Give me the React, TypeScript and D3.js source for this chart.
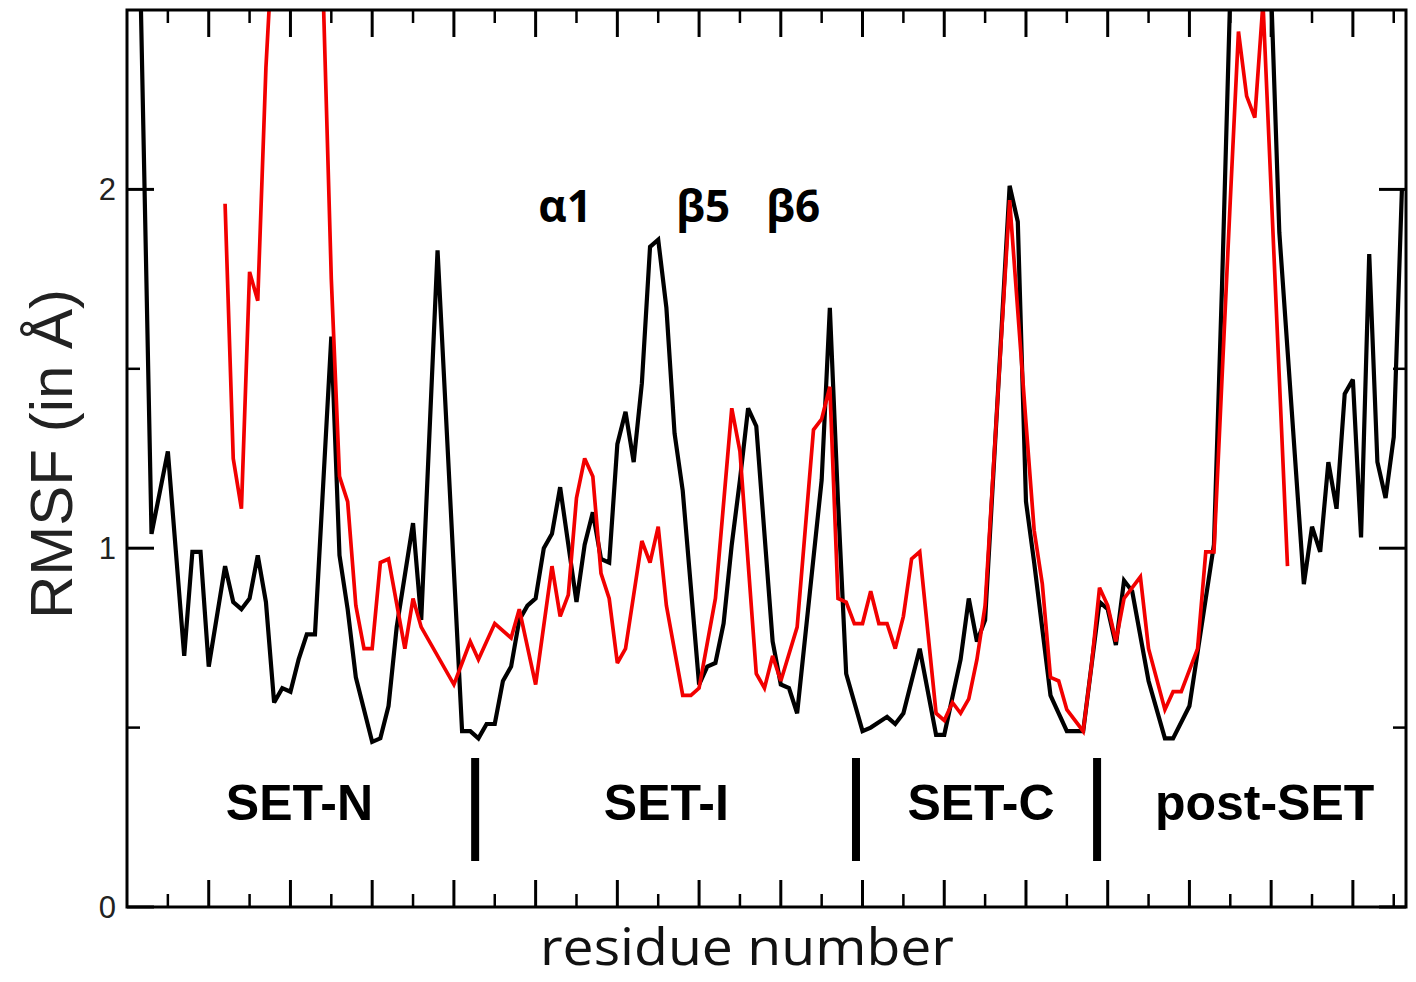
import React from 'react';
import * as d3 from 'd3';

// ---- data ----
const blackResidues = [1,3,5,7,8,9,10,12,13,14,15,16,17,18,19,20,21,22,23,25,26,27,28,30,31,32,33,35,36,38,41,42,43,44,45,46,47,48,49,50,51,52,53,55,56,57,58,59,60,61,62,63,64,65,66,67,68,70,71,72,73,74,75,76,77,79,80,81,82,85,86,87,88,90,91,93,94,95,97,99,100,102,103,104,105,108,109,110,111,113,115,117,119,120,121,122,123,125,127,128,130,131,133,134,135,137,140,141,144,145,146,147,148,149,150,151,152,153,154,155,156];
const blackRmsf = [3.30,1.04,1.27,0.70,0.99,0.99,0.67,0.95,0.85,0.83,0.86,0.98,0.85,0.57,0.61,0.60,0.69,0.76,0.76,1.59,0.98,0.83,0.64,0.46,0.47,0.56,0.78,1.07,0.80,1.83,0.49,0.49,0.47,0.51,0.51,0.63,0.67,0.80,0.84,0.86,1.00,1.04,1.17,0.85,1.01,1.10,0.97,0.96,1.29,1.38,1.24,1.46,1.84,1.86,1.67,1.32,1.16,0.62,0.67,0.68,0.79,1.01,1.19,1.39,1.34,0.74,0.62,0.61,0.54,1.19,1.67,1.13,0.65,0.49,0.50,0.53,0.51,0.54,0.72,0.48,0.48,0.69,0.86,0.74,0.80,2.01,1.91,1.13,0.96,0.59,0.49,0.49,0.85,0.83,0.73,0.91,0.88,0.63,0.47,0.47,0.56,0.71,1.01,1.74,2.55,3.00,2.55,1.88,0.90,1.06,0.99,1.24,1.11,1.43,1.47,1.03,1.82,1.24,1.14,1.31,2.00];

const redResidues = [12,13,14,15,16,17,20,24,25,26,27,28,29,30,31,32,34,35,36,40,41,42,43,45,47,48,50,52,53,54,55,56,57,58,59,60,61,63,64,65,66,68,69,70,72,74,75,77,78,79,80,82,84,85,86,87,88,89,90,91,92,93,94,95,96,97,99,100,101,102,103,104,105,108,110,111,112,113,114,115,117,118,119,120,121,122,124,125,127,128,129,131,132,133,135,136,137,138,139,142];
const redRmsf = [1.96,1.25,1.11,1.77,1.69,2.34,3.60,2.55,1.75,1.20,1.13,0.84,0.72,0.72,0.96,0.97,0.72,0.86,0.78,0.62,0.68,0.74,0.69,0.79,0.75,0.83,0.62,0.95,0.81,0.87,1.14,1.25,1.20,0.93,0.86,0.68,0.72,1.02,0.96,1.06,0.84,0.59,0.59,0.61,0.86,1.39,1.27,0.65,0.61,0.70,0.63,0.78,1.33,1.36,1.45,0.86,0.85,0.79,0.79,0.88,0.79,0.79,0.72,0.81,0.97,0.99,0.54,0.52,0.57,0.54,0.58,0.69,0.84,1.97,1.35,1.05,0.90,0.64,0.63,0.55,0.49,0.67,0.89,0.84,0.74,0.86,0.92,0.72,0.55,0.60,0.60,0.72,0.99,0.99,1.97,2.44,2.26,2.20,2.52,0.95];

const yTickValues = [0, 1, 2];
const yTickLabels = ['0', '1', '2'];
const yMinorTickValues = [0.5, 1.5];
const domainBoundaries = [42.6, 89.2, 118.7];
const domainLabels = ['SET-N', 'SET-I', 'SET-C', 'post-SET'];
const domainLabelCenters = [21.1, 66.0, 104.5, 139.2];
const ssLabels = ['α1', 'β5', 'β6'];
const ssLabelCenters = [53.6, 70.5, 81.5];

const W = 1416;
const H = 982;
const L = 127, R = 1406, T = 10, B = 907;

export default function App() {
  const x = d3.scaleLinear().domain([0, 156.5]).range([L, R]);
  const y = d3.scaleLinear().domain([0, 2.5]).range([B, T]);
  const majorX = d3.range(10, 156, 10);
  const minorX = d3.range(5, 157, 10);

  const line = d3.line<[number, number]>().x(d => x(d[0])).y(d => y(d[1]));
  const blackPts = blackResidues.map((r, i) => [r, blackRmsf[i]] as [number, number]);
  const redPts = redResidues.map((r, i) => [r, redRmsf[i]] as [number, number]);

  const majLen = 27, minLen = 13;

  return (
    <svg width={W} height={H} style={{ position: 'absolute', left: 0, top: 0, background: '#fff' }}>
      <defs>
        <clipPath id="plotclip">
          <rect x={L} y={T} width={R - L} height={B - T} />
        </clipPath>
      </defs>
      <rect x={0} y={0} width={W} height={H} fill="#fff" />

      {/* data lines */}
      <g clipPath="url(#plotclip)" fill="none" strokeLinejoin="miter" strokeMiterlimit={3}>
        <path d={line(blackPts) || ''} stroke="#000" strokeWidth={4.2} />
        <path d={line(redPts) || ''} stroke="#f20000" strokeWidth={3.7} />
      </g>

      {/* ticks */}
      <g stroke="#000" strokeWidth={3}>
        {majorX.map(v => (
          <g key={'mx' + v}>
            <line x1={x(v)} x2={x(v)} y1={B} y2={B - majLen} />
            <line x1={x(v)} x2={x(v)} y1={T} y2={T + majLen} />
          </g>
        ))}
        {minorX.map(v => (
          <g key={'nx' + v}>
            <line x1={x(v)} x2={x(v)} y1={B} y2={B - minLen} strokeWidth={2.5} />
            <line x1={x(v)} x2={x(v)} y1={T} y2={T + minLen} strokeWidth={2.5} />
          </g>
        ))}
        {yTickValues.map(v => (
          <g key={'my' + v}>
            <line x1={L} x2={L + majLen} y1={y(v)} y2={y(v)} />
            <line x1={R} x2={R - majLen} y1={y(v)} y2={y(v)} />
          </g>
        ))}
        {yMinorTickValues.map(v => (
          <g key={'ny' + v}>
            <line x1={L} x2={L + minLen} y1={y(v)} y2={y(v)} strokeWidth={2.5} />
            <line x1={R} x2={R - minLen} y1={y(v)} y2={y(v)} strokeWidth={2.5} />
          </g>
        ))}
      </g>

      {/* frame */}
      <rect x={L} y={T} width={R - L} height={B - T} fill="none" stroke="#000" strokeWidth={3} />

      {/* y tick labels */}
      {yTickValues.map((v, i) => (
        <text key={'yl' + v} x={116} y={y(v) + 11} textAnchor="end"
          fontFamily="'Liberation Sans', Arial, sans-serif" fontSize={31} fill="#222">
          {yTickLabels[i]}
        </text>
      ))}

      {/* axis titles */}
      <text transform={`translate(72, 454) rotate(-90)`} textAnchor="middle"
        fontFamily="'Liberation Sans', Arial, sans-serif" fontSize={60} fill="#222">
        RMSF (in Å)
      </text>
      <text x={747} y={965} textAnchor="middle" fontFamily="'Open Sans', sans-serif" fontSize={52}
        textLength={414} lengthAdjust="spacingAndGlyphs" fill="#111">
        residue number
      </text>

      {/* secondary-structure labels */}
      {ssLabels.map((s, i) => (
        <text key={s} x={x(ssLabelCenters[i])} y={222} textAnchor="middle"
          fontFamily="'Open Sans', sans-serif" fontWeight="bold" fontSize={44} fill="#000">
          {s}
        </text>
      ))}

      {/* domain labels and boundaries */}
      {domainLabels.map((s, i) => (
        <text key={s} x={x(domainLabelCenters[i])} y={820} textAnchor="middle"
          fontFamily="'Liberation Sans', Arial, sans-serif" fontWeight="bold" fontSize={50} fill="#000">
          {s}
        </text>
      ))}
      {domainBoundaries.map(b => (
        <line key={'b' + b} x1={x(b)} x2={x(b)} y1={758} y2={861} stroke="#000" strokeWidth={8} />
      ))}
    </svg>
  );
}
